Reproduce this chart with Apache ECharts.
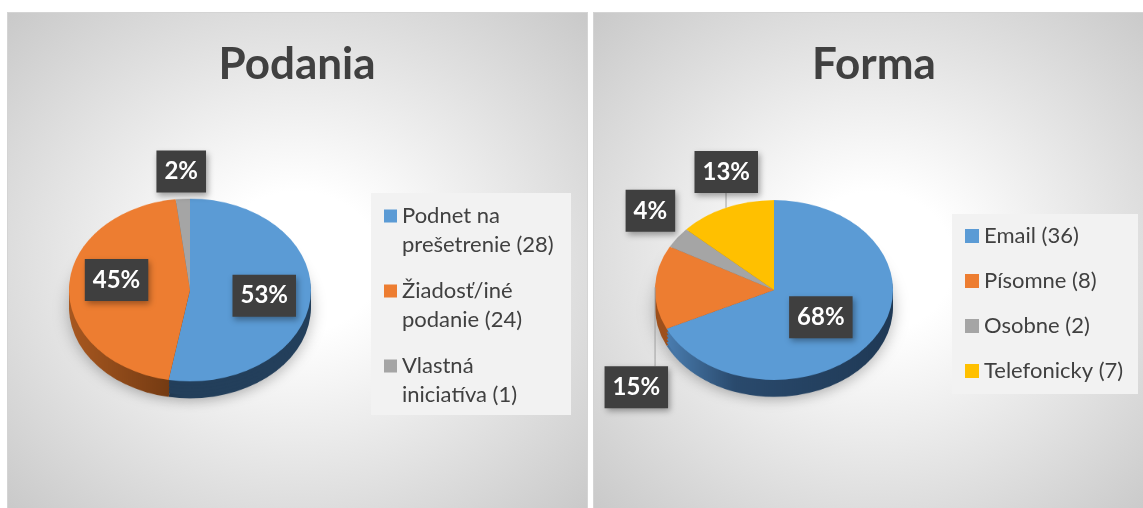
<!DOCTYPE html>
<html>
<head>
<meta charset="utf-8">
<script src="https://cdn.jsdelivr.net/npm/echarts@6/dist/echarts.min.js"></script>
<style>
html,body{margin:0;padding:0;background:#fff;width:1143px;height:508px;overflow:hidden;}
.panel{position:absolute;top:12px;height:500px;box-sizing:border-box;border:1px solid #d4d4d4;
  background:radial-gradient(farthest-corner at 50% 50%, #ffffff 0%, #ffffff 20%, #c9c9c9 100%);}
#bgL{left:7px;width:581px;}
#bgR{left:593px;width:562px;}
#pies{position:absolute;left:0;top:0;width:1143px;height:508px;transform-origin:0 290px;transform:scaleY(0.755);}
#front{position:absolute;left:0;top:0;width:1143px;height:508px;}
</style>
</head>
<body>
<div class="panel" id="bgL"></div>
<div class="panel" id="bgR"></div>
<div id="pies"></div>
<div id="front"></div>
<script>
// ---------------- data ----------------
const podaniaTitle = 'Podania';
const podaniaCategories = ['Podnet na prešetrenie', 'Žiadosť/iné podanie', 'Vlastná iniciatíva'];
const podaniaValues = [28, 24, 1];

const formaTitle = 'Forma';
const formaCategories = ['Email', 'Písomne', 'Osobne', 'Telefonicky'];
const formaValues = [36, 8, 2, 7];

// ---------------- styles ----------------
const sliceColors = ['#5B9BD5', '#ED7D31', '#A5A5A5', '#FFC000'];
const TILT = 0.755;      // vertical squash of the pie (CSS scaleY on #pies)
const DEPTH = 17;        // visible thickness of the pie side (px, after squash)
const FONT = 'Lato';

function hGrad(stops) {
  return { type: 'linear', x: 0, y: 0, x2: 1, y2: 0,
    colorStops: stops.map(s => ({ offset: s[0], color: s[1] })) };
}

const pies = [
  {
    title: podaniaTitle, names: podaniaCategories, values: podaniaValues,
    center: [190, 290], radius: 121, titleX: 297,
    sideColors: ['#233f5b', hGrad([[0, '#a85820'], [1, '#6a3510']]), '#6b6b6b', '#a67d00'],
    labelPos: ['inside', 'inside', 'inside'],
    labelLine: [false, false, false],
    nudge: [[11, 0], [-10, -8], [-5, -55]]
  },
  {
    title: formaTitle, names: formaCategories, values: formaValues,
    center: [774, 290], radius: 119, titleX: 874,
    sideColors: [hGrad([[0, '#4a7db0'], [0.3, '#2a4a6d'], [1, '#1f3955']]), '#9e501c', '#6b6b6b', '#a67d00'],
    labelPos: ['inside', 'outside', 'outside', 'outside'],
    labelLine: [false, true, false, true],
    nudge: [[-6, -6], [28, 101], [11, -4], [41, 0]]
  }
];

function sliceData(pie, colors, extra) {
  return pie.names.map((n, i) => Object.assign({
    name: n, value: pie.values[i], itemStyle: { color: colors[i] }
  }, extra ? extra(i) : {}));
}

// ---------------- pie bodies (squashed) ----------------
const bodySeries = [];
pies.forEach(pie => {
  [1, 0.8, 0.6, 0.4, 0.2].forEach(f => {
    bodySeries.push({
      type: 'pie', silent: true, animation: false,
      center: [pie.center[0], pie.center[1] + DEPTH / TILT * f],
      radius: pie.radius, startAngle: 90, clockwise: true,
      label: { show: false }, labelLine: { show: false },
      itemStyle: f === 1
        ? { borderWidth: 0, shadowBlur: 16, shadowOffsetY: 4, shadowColor: 'rgba(0,0,0,0.28)' }
        : { borderWidth: 0 },
      data: sliceData(pie, pie.sideColors)
    });
  });
  bodySeries.push({
    type: 'pie', silent: true, animation: false,
    center: pie.center, radius: pie.radius, startAngle: 90, clockwise: true,
    label: { show: false }, labelLine: { show: false },
    itemStyle: { borderWidth: 0 },
    data: sliceData(pie, sliceColors)
  });
});

const bodyChart = echarts.init(document.getElementById('pies'), null, { renderer: 'canvas' });
bodyChart.setOption({ animation: false, backgroundColor: 'transparent', series: bodySeries });

// ---------------- titles, legends, labels ----------------
// left legend: name wrapped before its last word; a leading blank line keeps the
// marker level with the first text line
function podaniaLegendText(name) {
  const i = podaniaCategories.indexOf(name);
  const k = name.lastIndexOf(' ');
  return '\n' + name.slice(0, k) + '\n' + name.slice(k + 1) + ' (' + podaniaValues[i] + ')';
}
function formaLegendText(name) {
  const i = formaCategories.indexOf(name);
  return name + ' (' + formaValues[i] + ')';
}

const labelSeries = pies.map((pie, si) => ({
  type: 'pie', name: pie.title, silent: true, animation: false,
  center: pie.center, radius: pie.radius, startAngle: 90, clockwise: true,
  avoidLabelOverlap: false,
  itemStyle: { borderWidth: 0 },
  label: {
    show: true,
    formatter: p => Math.round(p.percent) + '%',
    fontFamily: FONT, fontWeight: 'bold', fontSize: 24, lineHeight: 24, color: '#ffffff',
    backgroundColor: '#3f3f3f', padding: [9, 8, 9, 8],
    shadowBlur: 6, shadowOffsetX: 2, shadowOffsetY: 3, shadowColor: 'rgba(0,0,0,0.35)'
  },
  labelLine: { length: 10, length2: 0, lineStyle: { color: '#a0a0a0', width: 1 } },
  labelLayout: function (p) {
    const n = pie.nudge[p.dataIndex];
    const r = p.labelRect;
    const ax = p.align === 'right' ? r.x + r.width : (p.align === 'left' ? r.x : r.x + r.width / 2);
    const ay = r.y + r.height / 2;
    const out = { x: ax + n[0], y: ay + n[1] };
    if (pie.labelLine[p.dataIndex] && p.labelLinePoints) {
      const p0 = p.labelLinePoints[0];
      const cy = pie.center[1];
      const y0 = cy + (p0[1] - cy) * TILT;
      const ny = out.y;
      const edge = y0 < ny ? ny - r.height / 2 : ny + r.height / 2;
      out.labelLinePoints = [[p0[0], y0], [p0[0], edge], [p0[0], edge]];
    }
    return out;
  },
  data: sliceData(pie, sliceColors, i => ({
    itemStyle: { color: 'rgba(0,0,0,0)' },
    label: { position: pie.labelPos[i] },
    labelLine: { show: pie.labelLine[i] }
  }))
}));

const legendBase = {
  orient: 'vertical', icon: 'rect', padding: 0, selectedMode: false,
  itemStyle: { borderWidth: 0 }
};

const frontChart = echarts.init(document.getElementById('front'), null, { renderer: 'canvas' });
frontChart.setOption({
  animation: false,
  backgroundColor: 'transparent',
  title: pies.map(pie => ({
    text: pie.title, left: pie.titleX, top: 43, textAlign: 'center', padding: 0,
    textStyle: { fontFamily: FONT, fontWeight: 'bold', fontSize: 44, color: '#404040' }
  })),
  graphic: [
    { type: 'rect', z: 0, silent: true, shape: { x: 371, y: 193, width: 200, height: 222 }, style: { fill: '#f2f2f2' } },
    { type: 'rect', z: 0, silent: true, shape: { x: 952, y: 214, width: 186, height: 180 }, style: { fill: '#f2f2f2' } }
  ],
  legend: [
    Object.assign({}, legendBase, {
      data: podaniaCategories.map((n, i) => ({ name: n, itemStyle: { color: sliceColors[i] } })),
      formatter: podaniaLegendText,
      left: 384, top: 172.5, itemGap: -12, itemWidth: 13, itemHeight: 13,
      textStyle: { fontFamily: FONT, fontSize: 22, color: '#404040', lineHeight: 29 }
    }),
    Object.assign({}, legendBase, {
      data: formaCategories.map((n, i) => ({ name: n, itemStyle: { color: sliceColors[i] } })),
      formatter: formaLegendText,
      left: 965, top: 221.5, itemGap: 16, itemWidth: 14, itemHeight: 14,
      textStyle: { fontFamily: FONT, fontSize: 22, color: '#404040', lineHeight: 29 }
    })
  ],
  series: labelSeries
});
</script>
</body>
</html>
